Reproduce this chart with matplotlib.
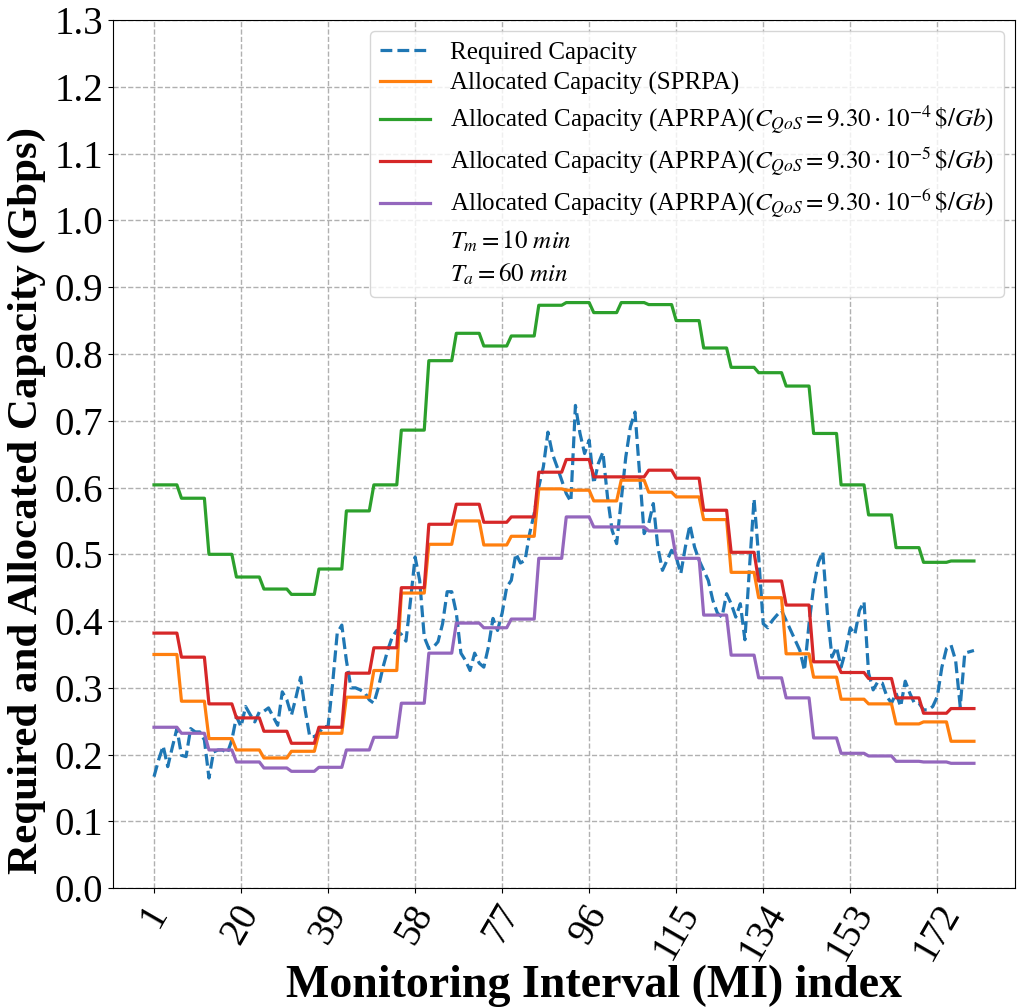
import matplotlib
matplotlib.use('Agg')
import matplotlib.pyplot as plt
import numpy as np

plt.rcParams['font.family'] = ['Liberation Serif', 'DejaVu Serif']
plt.rcParams['mathtext.fontset'] = 'stix'

STEP = 6  # Ta / Tm = 60 / 10 monitoring intervals per allocation period

required = [
    0.167, 0.192, 0.213, 0.182, 0.211, 0.239, 0.199, 0.197, 0.239, 0.234,
    0.234, 0.222, 0.165, 0.204, 0.207, 0.207, 0.202, 0.222, 0.257, 0.242,
    0.272, 0.260, 0.249, 0.264, 0.265, 0.270, 0.257, 0.244, 0.294, 0.282,
    0.259, 0.286, 0.316, 0.267, 0.227, 0.227, 0.232, 0.242, 0.242, 0.307,
    0.382, 0.394, 0.341, 0.300, 0.300, 0.297, 0.293, 0.282, 0.277, 0.301,
    0.331, 0.356, 0.376, 0.386, 0.380, 0.370, 0.431, 0.496, 0.461, 0.376,
    0.359, 0.361, 0.369, 0.396, 0.444, 0.444, 0.412, 0.352, 0.341, 0.326,
    0.352, 0.337, 0.331, 0.361, 0.404, 0.386, 0.412, 0.451, 0.461, 0.501,
    0.487, 0.491, 0.531, 0.561, 0.601, 0.631, 0.683, 0.650, 0.631, 0.611,
    0.591, 0.579, 0.723, 0.681, 0.651, 0.671, 0.606, 0.636, 0.653, 0.586,
    0.536, 0.516, 0.581, 0.646, 0.691, 0.713, 0.621, 0.531, 0.546, 0.576,
    0.510, 0.476, 0.491, 0.506, 0.496, 0.471, 0.511, 0.544, 0.511, 0.491,
    0.476, 0.461, 0.431, 0.412, 0.406, 0.441, 0.426, 0.406, 0.426, 0.372,
    0.480, 0.583, 0.496, 0.396, 0.390, 0.401, 0.409, 0.416, 0.401, 0.386,
    0.371, 0.356, 0.326, 0.396, 0.451, 0.487, 0.504, 0.412, 0.346, 0.361,
    0.331, 0.356, 0.390, 0.380, 0.416, 0.429, 0.322, 0.297, 0.309, 0.307,
    0.287, 0.277, 0.292, 0.272, 0.310, 0.292, 0.277, 0.277, 0.267, 0.267,
    0.272, 0.287, 0.331, 0.359, 0.364, 0.341, 0.272, 0.352, 0.354, 0.356,
]

# allocated capacity per 60-min period (30 periods)
sprpa = [0.350, 0.280, 0.224, 0.207, 0.195, 0.205, 0.232, 0.286, 0.326, 0.442,
         0.515, 0.550, 0.514, 0.527, 0.598, 0.596, 0.580, 0.611, 0.593, 0.586,
         0.552, 0.473, 0.435, 0.351, 0.316, 0.283, 0.276, 0.246, 0.249, 0.220]
aprpa_e4 = [0.604, 0.584, 0.500, 0.466, 0.448, 0.440, 0.478, 0.565, 0.604, 0.686,
            0.790, 0.831, 0.812, 0.827, 0.873, 0.877, 0.862, 0.877, 0.874, 0.850,
            0.809, 0.780, 0.772, 0.752, 0.681, 0.604, 0.559, 0.510, 0.488, 0.490]
aprpa_e5 = [0.382, 0.346, 0.276, 0.255, 0.235, 0.217, 0.241, 0.322, 0.360, 0.450,
            0.545, 0.575, 0.548, 0.556, 0.623, 0.642, 0.616, 0.616, 0.626, 0.614,
            0.566, 0.503, 0.460, 0.424, 0.339, 0.323, 0.314, 0.285, 0.262, 0.269]
aprpa_e6 = [0.241, 0.232, 0.207, 0.189, 0.180, 0.175, 0.181, 0.207, 0.226, 0.277,
            0.352, 0.397, 0.390, 0.403, 0.494, 0.556, 0.541, 0.541, 0.535, 0.494,
            0.409, 0.349, 0.315, 0.285, 0.225, 0.202, 0.198, 0.190, 0.189, 0.187]

xticks = [1, 20, 39, 58, 77, 96, 115, 134, 153, 172]

mi = np.arange(1, len(required) + 1)

fig = plt.figure(figsize=(10.18, 10.07), dpi=100)
ax = fig.add_axes([0.111, 0.118, 0.886, 0.862])

lw = 2.3
ax.plot(mi, required, '--', color='C0', linewidth=lw, label='Required Capacity')
ax.plot(mi, np.repeat(sprpa, STEP), color='C1', linewidth=lw,
        label='Allocated Capacity (SPRPA)')
ax.plot(mi, np.repeat(aprpa_e4, STEP), color='C2', linewidth=lw,
        label=r'Allocated Capacity (APRPA)($C_{QoS} = 9.30 \cdot 10^{-4}\,\$/Gb$)')
ax.plot(mi, np.repeat(aprpa_e5, STEP), color='C3', linewidth=lw,
        label=r'Allocated Capacity (APRPA)($C_{QoS} = 9.30 \cdot 10^{-5}\,\$/Gb$)')
ax.plot(mi, np.repeat(aprpa_e6, STEP), color='C4', linewidth=lw,
        label=r'Allocated Capacity (APRPA)($C_{QoS} = 9.30 \cdot 10^{-6}\,\$/Gb$)')
ax.plot([], [], color='none', label=r'$T_m = 10\ min$')
ax.plot([], [], color='none', label=r'$T_a = 60\ min$')

ax.set_ylim(0, 1.3)
ax.set_yticks(np.arange(0, 1.31, 0.1))
ax.set_xticks(xticks)
ax.tick_params(axis='both', labelsize=28)
plt.setp(ax.get_xticklabels(), rotation=60)
ax.grid(True, linestyle='--', color='#b0b0b0', linewidth=1)

ax.set_xlabel('Monitoring Interval (MI) index', fontsize=33, fontweight='bold')
ax.xaxis.set_label_coords(0.533, -0.088)
ax.set_ylabel('Required and Allocated Capacity (Gbps)', fontsize=31, fontweight='bold')
ax.yaxis.set_label_coords(-0.074, 0.447)

ax.legend(loc='upper right', fontsize=18, labelspacing=0.32,
          borderaxespad=0.45)

fig.savefig('out.png', dpi=100)
plt.close()
